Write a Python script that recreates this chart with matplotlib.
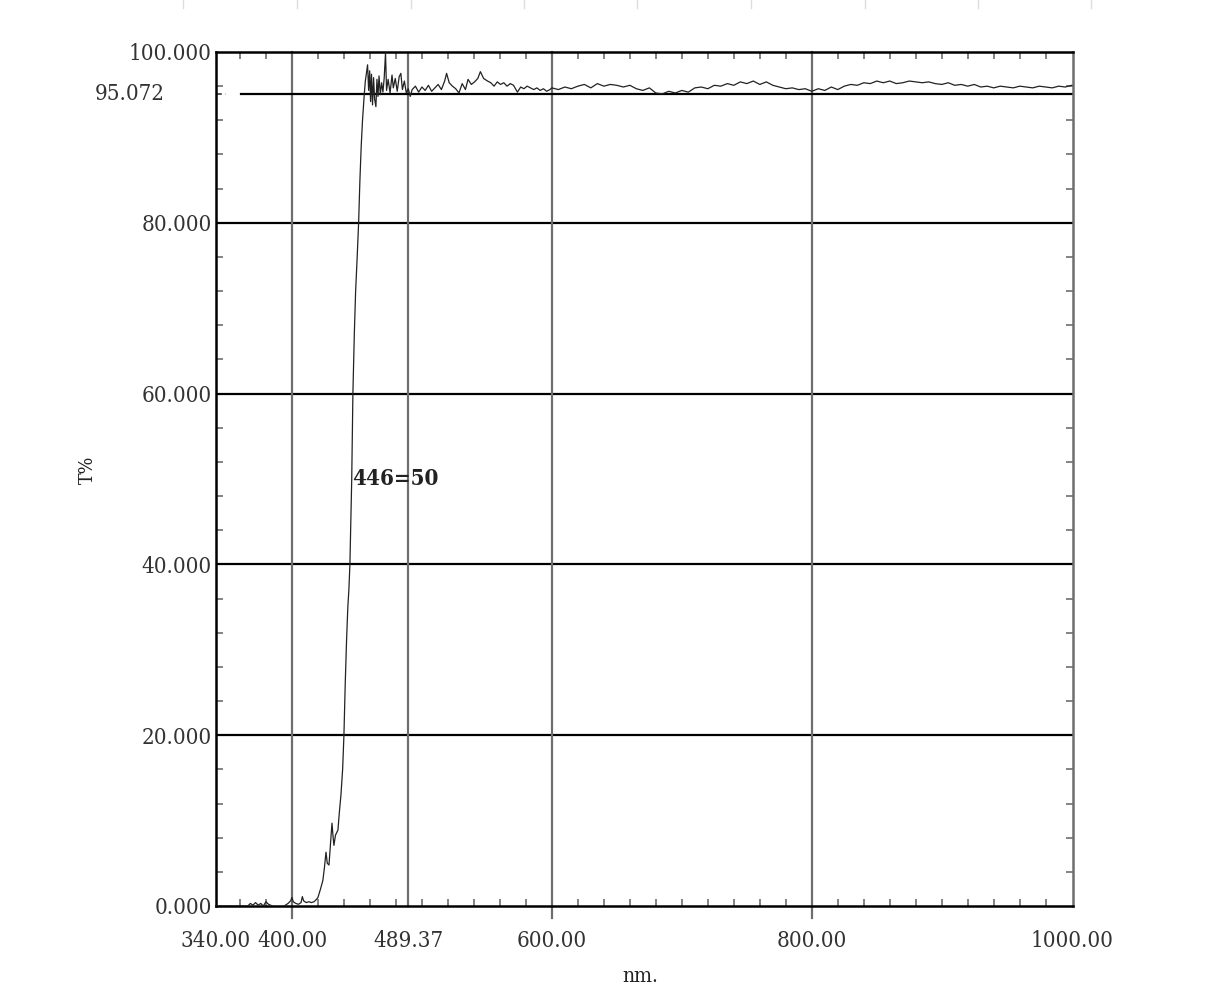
import numpy as np
import matplotlib
matplotlib.use('Agg')
import matplotlib.pyplot as plt
import matplotlib.transforms as mtransforms
from matplotlib.lines import Line2D
from matplotlib.ticker import MultipleLocator, FixedLocator

plt.rcParams['font.family'] = ['DejaVu Serif']
plt.rcParams['font.stretch'] = 'condensed'

# transmittance scan
wl_base = [340, 355, 366, 368, 370, 372, 374, 376, 378, 380, 382, 385, 388, 391, 394,
           397, 399, 400, 401, 403, 405, 407, 408, 409, 411, 413, 415, 417, 419]
t_base = [0.0, 0.0, 0.0, 0.3, 0.1, 0.4, 0.1, 0.3, 0.0, 0.5, 0.2, 0.0, -0.2, -0.3, 0.0,
          0.3, 0.6, 1.0, 0.5, 0.3, 0.2, 0.4, 1.1, 0.6, 0.4, 0.5, 0.4, 0.5, 0.8]

wl_rise = [420, 422, 423.8, 425, 426.2, 427.2, 428.5, 430, 430.8, 431.6, 432.3, 433.5,
           435.4, 436.5, 437.7, 439, 440, 441, 442, 443, 443.8, 444.6, 445.3, 446,
           446.9, 448, 449, 450.2, 451.3, 452.3, 453.3, 454.3, 455.4, 456.4, 457.3, 458.2]
t_rise = [1.0, 2.0, 3.0, 4.5, 6.3, 5.0, 4.8, 8.0, 9.7, 8.2, 7.1, 8.3,
          8.9, 11.0, 13.0, 16.0, 20.0, 26.0, 31.0, 35.0, 37.0, 40.0, 45.0, 50.0,
          60.0, 67.0, 72.0, 76.0, 80.0, 85.0, 89.0, 92.0, 94.5, 96.5, 97.5, 98.5]

wl_osc = [459.0, 459.8, 460.5, 461.2, 462.0, 462.8, 463.6, 464.6, 465.4, 466.2, 467.0,
          468.0, 469.0, 470.0, 471.0, 472.0, 472.8, 474.0, 475.5, 477.0, 478.0, 479.5,
          481.0, 482.5, 483.8, 485.0, 486.5, 488.0, 489.5, 491.0]
t_osc = [95.5, 97.8, 94.2, 97.4, 93.8, 97.0, 94.5, 93.6, 96.8, 94.8, 97.2,
         95.0, 96.4, 95.3, 97.0, 99.9, 95.5, 96.8, 95.2, 97.3, 95.8, 96.9,
         95.4, 97.1, 97.5, 95.6, 96.6, 95.2, 95.7, 94.8]

wl_mid = [492.5, 495, 497.5, 500, 502.5, 505, 507.5, 510, 512.5, 515, 517.5, 519, 521,
          523.5, 526, 528.5, 531, 533.5, 535.5, 538, 540.5, 543, 545, 547.5, 550.5, 553,
          555.5, 558, 560.5, 563, 565.5, 568, 570.5, 573.5, 576, 578.5, 581, 583.5, 586,
          588.5, 591, 593.5, 596, 598.5]
t_mid = [95.6, 96.0, 95.3, 95.9, 95.5, 96.1, 95.4, 95.8, 96.2, 95.6, 96.6, 97.5, 96.4,
         96.0, 95.7, 95.2, 96.3, 95.6, 96.8, 96.2, 96.5, 96.9, 97.7, 96.9, 96.6, 96.4,
         96.0, 96.5, 96.2, 96.4, 96.0, 96.3, 96.1, 95.3, 95.9, 95.7, 96.0, 95.8, 95.6,
         95.8, 95.5, 95.7, 95.4, 95.6]

wl_far = [600, 605, 610, 615, 620, 625, 630, 635, 640, 645, 650, 655, 660, 665, 670,
          675, 680, 685, 690, 695, 700, 705, 710, 715, 720, 725, 730, 735, 740, 745,
          750, 755, 760, 765, 770, 775, 780, 785, 790, 795, 800, 805, 810, 815, 820,
          825, 830, 835, 840, 845, 850, 855, 860, 865, 870, 875, 880, 885, 890, 895,
          900, 905, 910, 915, 920, 925, 930, 935, 940, 945, 950, 955, 960, 965, 970,
          975, 980, 985, 990, 995, 1000]
t_far = [95.8, 95.6, 95.9, 95.7, 96.0, 96.2, 95.8, 96.3, 96.0, 96.2, 96.1, 95.9, 96.1, 95.7, 95.5,
         95.8, 95.2, 95.1, 95.4, 95.2, 95.5, 95.3, 95.8, 95.9, 95.7, 96.1, 96.0, 96.3, 96.1, 96.5,
         96.3, 96.6, 96.2, 96.5, 96.1, 95.9, 95.7, 95.8, 95.6, 95.7, 95.4, 95.7, 95.5, 95.9, 95.6,
         96.0, 96.2, 96.1, 96.4, 96.3, 96.6, 96.4, 96.6, 96.3, 96.4, 96.6, 96.5, 96.4, 96.5, 96.3,
         96.2, 96.4, 96.1, 96.2, 96.0, 96.2, 95.9, 96.0, 95.8, 96.0, 95.9, 95.8, 96.0, 95.9, 95.8,
         96.0, 95.9, 95.8, 96.0, 95.9, 96.1]

wl = np.array(wl_base + wl_rise + wl_osc + wl_mid + wl_far)
tr = np.array(t_base + t_rise + t_osc + t_mid + t_far)

x_ticks = [341.5, 400, 489.37, 600, 800, 1000]
x_labels = ['340.00', '400.00', '489.37', '600.00', '800.00', '1000.00']
y_ticks = [0, 20, 40, 60, 80, 100]
y_labels = ['0.000', '20.000', '40.000', '60.000', '80.000', '100.000']
v_lines = [400, 600, 800]
marker_wl = 489.37
marker_t = 95.072
half_label = '446=50'

fig = plt.figure(figsize=(12.13, 10), dpi=100)
ax = fig.add_axes([0.178, 0.094, 0.7066, 0.854])

grey = '#6e6e6e'
for y in [20, 40, 60, 80]:
    ax.axhline(y, color='black', lw=1.6, zorder=1)
trans_v = mtransforms.blended_transform_factory(ax.transData, ax.transAxes)
for x in v_lines:
    ax.plot([x, x], [-0.014, 1], color=grey, lw=1.6, transform=trans_v,
            clip_on=False, zorder=1)
ax.plot([marker_wl, marker_wl], [0, 1], color=grey, lw=1.6, transform=trans_v, zorder=1)

# 95.072 marker line, dashed start
ax.plot([341.5, 349], [marker_t, marker_t], color='#555555', lw=1.4, ls=(0, (3, 2)), zorder=1)
ax.plot([361, 1001], [marker_t, marker_t], color='black', lw=1.6, zorder=1)

ax.plot(wl, tr, color='#222222', lw=0.9, zorder=3)

ax.set_xlim(341.5, 1001)
ax.set_ylim(0, 100)

ax.xaxis.set_major_locator(FixedLocator(x_ticks))
ax.set_xticklabels(x_labels)
ax.set_yticks(y_ticks)
ax.set_yticklabels(y_labels)
ax.xaxis.set_minor_locator(FixedLocator([360 + 20 * i for i in range(32)]))
ax.yaxis.set_minor_locator(MultipleLocator(4))
ax.tick_params(axis='x', which='major', length=0, pad=17, labelsize=16, colors='#333333')
ax.tick_params(axis='y', which='major', length=0, pad=3, labelsize=16, colors='#333333')
ax.tick_params(which='minor', direction='in', length=5, width=1.2, color=grey,
               top=True, right=True, bottom=True, left=True)

for side in ['left', 'bottom', 'top']:
    ax.spines[side].set_color('black')
    ax.spines[side].set_linewidth(1.8)
ax.spines['right'].set_color(grey)
ax.spines['right'].set_linewidth(1.8)

trans_l = mtransforms.blended_transform_factory(ax.transAxes, ax.transData)
ax.text(-0.06, marker_t, '95.072', transform=trans_l, ha='right', va='center',
        fontsize=16, color='#333333')
ax.text(446, 50, half_label, ha='left', va='center', fontsize=16,
        fontweight='bold', color='#222222')

fig.text(88 / 1213, 1 - 470 / 1000, 'T%', rotation=90, ha='center', va='center',
         fontsize=14, color='#222222')
fig.text(640 / 1213, 1 - 976 / 1000, 'nm.', ha='center', va='center',
         fontsize=15, color='#222222')

# faint marks along the top edge of the screenshot
for px in [183, 297, 411, 524, 637, 751, 865, 978, 1091]:
    fig.add_artist(Line2D([px / 1213, px / 1213], [1.0, 0.992], color='#dddddd', lw=1))

fig.savefig('out.png', dpi=100, facecolor='white')
